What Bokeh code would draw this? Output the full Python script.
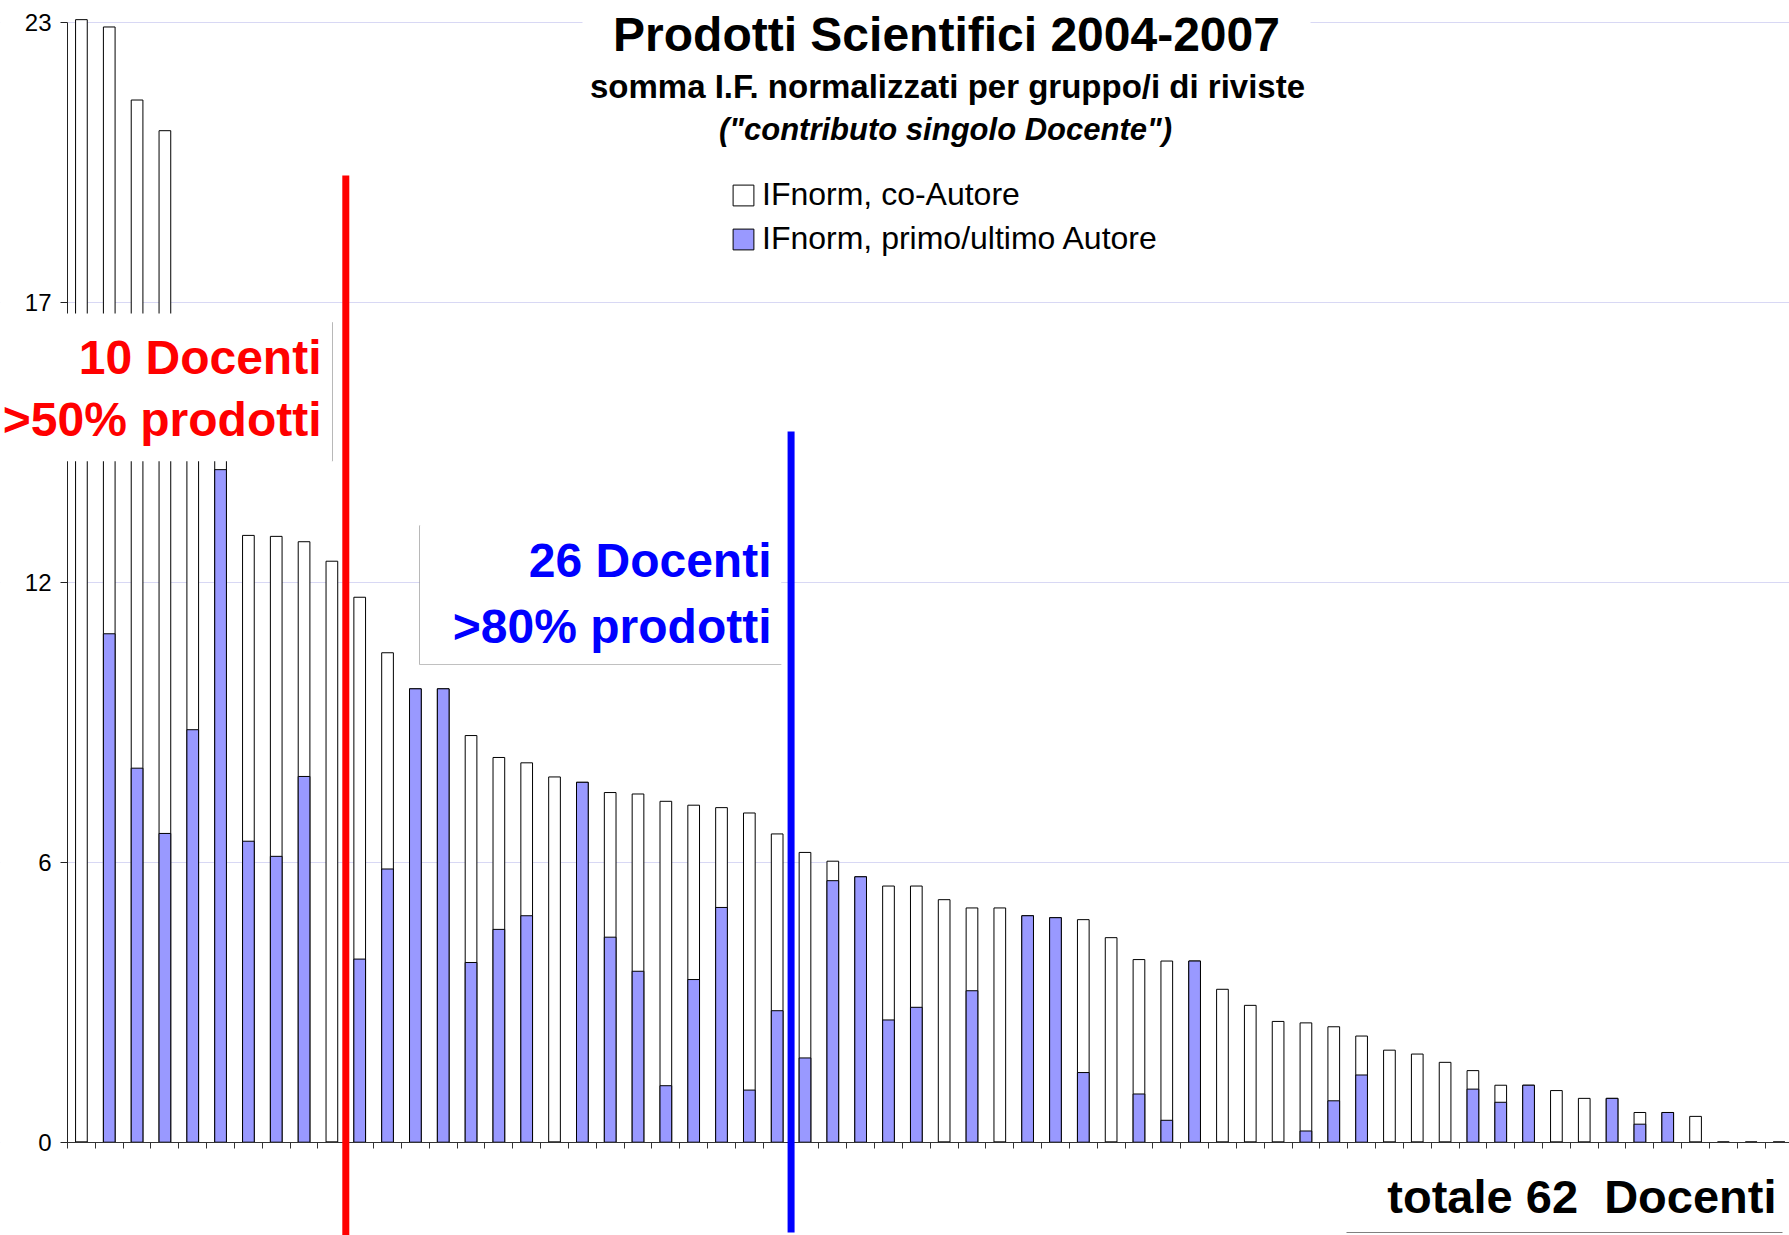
import numpy as np
from bokeh.plotting import figure
from bokeh.models import (Range1d, LinearAxis, FixedTicker, Label, BoxAnnotation, Grid,
                          Legend, LegendItem, ColumnDataSource, CustomJSTickFormatter)
from bokeh.embed import file_html
from bokeh.resources import INLINE

# ---------------- data ----------------
totale = [23.05, 22.90, 21.40, 20.77, 15.90, 14.40, 12.46, 12.44, 12.33, 11.93,
          11.19, 10.05, 9.31, 9.31, 8.35, 7.90, 7.79, 7.50, 7.39, 7.18,
          7.15, 7.00, 6.92, 6.87, 6.76, 6.33, 5.95, 5.77, 5.45, 5.26,
          5.26, 4.98, 4.81, 4.81, 4.65, 4.61, 4.57, 4.20, 3.75, 3.72,
          3.72, 3.14, 2.81, 2.48, 2.45, 2.37, 2.18, 1.89, 1.81, 1.64,
          1.47, 1.17, 1.17, 1.06, 0.90, 0.90, 0.61, 0.61, 0.53, 0.0,
          0.0, 0.0]
primo = [0.0, 10.44, 7.68, 6.34, 8.47, 13.81, 6.18, 5.87, 7.51, 0.0,
         3.76, 5.61, 9.31, 9.31, 3.69, 4.37, 4.65, 0.0, 7.39, 4.21,
         3.51, 1.16, 3.34, 4.82, 1.07, 2.70, 1.73, 5.37, 5.45, 2.51,
         2.77, 0.0, 3.11, 0.0, 4.65, 4.61, 1.43, 0.0, 0.99, 0.45,
         3.72, 0.0, 0.0, 0.0, 0.23, 0.85, 1.38, 0.0, 0.0, 0.0,
         1.09, 0.82, 1.17, 0.0, 0.0, 0.90, 0.37, 0.61, 0.0, 0.0,
         0.0, 0.0]
y_ticks = [0, 5.75, 11.5, 17.25, 23]
y_tick_labels = ["0", "6", "12", "17", "23"]
soglia_50 = 10
soglia_80 = 26
n_docenti = 62

# ---------------- geometry ----------------
W, H = 1789, 1235
FL = 67          # pixel column of the value axis
PX_X = 27.83     # pixels per category
PX_Y = 48.7      # pixels per unit
Y0 = 1141.7      # pixel row of value 0

def fx(X):  # pixel column -> data x
    return (X - FL) / PX_X

def fy(Y):  # pixel row -> data y
    return (Y0 - Y) / PX_Y

x_start, x_end = fx(0), fx(W)
y_bot, y_top = fy(H), fy(0)

p = figure(width=W, height=H, output_backend="svg", toolbar_location=None,
           x_range=Range1d(x_start, x_end), y_range=Range1d(y_bot, y_top),
           x_axis_type=None, y_axis_type=None,
           min_border_left=0, min_border_right=0, min_border_top=0, min_border_bottom=0)
p.outline_line_color = None
p.background_fill_color = "white"
p.border_fill_color = "white"

FONT = "Liberation Sans"

# horizontal grid lines
p.add_layout(Grid(dimension=1, ticker=FixedTicker(ticks=y_ticks),
                  grid_line_color="#D8D8F4", grid_line_width=1))
# blank gutter left of the value axis (hides grid lines there)
p.add_layout(BoxAnnotation(left=x_start - 1, right=0, top=y_top + 1, bottom=y_bot - 1,
                           fill_color="white", fill_alpha=1, line_color=None, level="underlay"))

# y axis at x = 0
yax = LinearAxis(ticker=FixedTicker(ticks=y_ticks), bounds=(0, 23), fixed_location=0)
yax.major_label_overrides = {float(t): l for t, l in zip(y_ticks, y_tick_labels)}
yax.axis_line_color = "#222222"
yax.major_tick_line_color = "#222222"
yax.major_tick_out = 7
yax.major_tick_in = 0
yax.minor_tick_line_color = None
yax.major_label_text_font = FONT
yax.major_label_text_font_size = "24px"
yax.major_label_text_color = "black"
yax.major_label_standoff = 9
p.add_layout(yax, "left")

# x axis (ticks at category boundaries) at y = 0
xax = LinearAxis(ticker=FixedTicker(ticks=list(range(0, n_docenti + 1))),
                 fixed_location=0, bounds=(0, n_docenti))
xax.formatter = CustomJSTickFormatter(code="return ''")
xax.axis_line_color = "#333333"
xax.major_tick_line_color = "#333333"
xax.major_tick_out = 6
xax.major_tick_in = 0
xax.minor_tick_line_color = None
p.add_layout(xax, "below")

src = ColumnDataSource(dict(x=np.arange(n_docenti) + 0.5, totale=totale, primo=primo))
r_white = p.vbar(x="x", top="totale", width=0.42, source=src,
                 fill_color="white", line_color="black", line_width=1)
r_blue = p.vbar(x="x", top="primo", width=0.42, source=src,
                fill_color="#9999FF", line_color="black", line_width=1)

# threshold lines
p.segment(x0=[soglia_50], x1=[soglia_50], y0=[y_bot], y1=[fy(175)],
          line_color="#FF0000", line_width=7, level="annotation")
p.segment(x0=[soglia_80], x1=[soglia_80], y0=[fy(1232)], y1=[fy(431)],
          line_color="#0000FF", line_width=7, level="annotation")

# white text boxes
p.add_layout(BoxAnnotation(left=x_start - 1, right=fx(331.7), top=fy(313), bottom=fy(460.7),
                           fill_color="white", fill_alpha=1, line_color=None))
p.add_layout(BoxAnnotation(left=fx(419.3), right=fx(780.7), top=fy(525), bottom=fy(664),
                           fill_color="white", fill_alpha=1, line_color=None))
p.add_layout(BoxAnnotation(left=fx(582), right=fx(1310), top=y_top + 1, bottom=fy(119),
                           fill_color="white", fill_alpha=1, line_color=None))
# visible edges of the text boxes
p.segment(x0=[fx(331.7)], x1=[fx(331.7)], y0=[fy(321.7)], y1=[fy(460.7)],
          line_color="#808080", line_width=1, level="annotation")
p.segment(x0=[fx(419.3), fx(419.3)], x1=[fx(419.3), fx(780.7)],
          y0=[fy(525), fy(664)], y1=[fy(664), fy(664)],
          line_color="#808080", line_width=1, level="annotation")
p.segment(x0=[fx(1346)], x1=[fx(1782)], y0=[fy(1232)], y1=[fy(1232)],
          line_color="#808080", line_width=1, level="annotation")

def lab(x, y, text, size, color="black", align="center", style="bold"):
    p.add_layout(Label(x=x, y=y, text=text, text_align=align, text_baseline="middle",
                       text_font=FONT, text_font_size=size, text_font_style=style,
                       text_color=color))

lab(fx(946), fy(34), "Prodotti Scientifici 2004-2007", "48px")
lab(fx(947), fy(86), "somma I.F. normalizzati per gruppo/i di riviste", "33px")
lab(fx(945), fy(129), "(\"contributo singolo Docente\")", "31px", style="bold italic")

lab(fx(321), fy(357), "10 Docenti", "48px", color="#FF0000", align="right")
lab(fx(321), fy(419), ">50% prodotti", "48px", color="#FF0000", align="right")
lab(fx(771), fy(560), "26 Docenti", "48px", color="#0000FF", align="right")
lab(fx(771), fy(626), ">80% prodotti", "48px", color="#0000FF", align="right")
lab(fx(1776), fy(1196), "totale %d\u00a0 Docenti" % n_docenti, "47px", align="right")

legend = Legend(items=[LegendItem(label="IFnorm, co-Autore", renderers=[r_white]),
                       LegendItem(label="IFnorm, primo/ultimo Autore", renderers=[r_blue])],
                location=(730, H - 257),
                orientation="vertical", margin=0, padding=0, spacing=7,
                glyph_width=26, glyph_height=26, label_height=34, label_standoff=6,
                label_text_font=FONT, label_text_font_size="32px", label_text_color="black",
                border_line_color=None, background_fill_alpha=0)
p.add_layout(legend)

open("out.html", "w").write(file_html(p, INLINE))
